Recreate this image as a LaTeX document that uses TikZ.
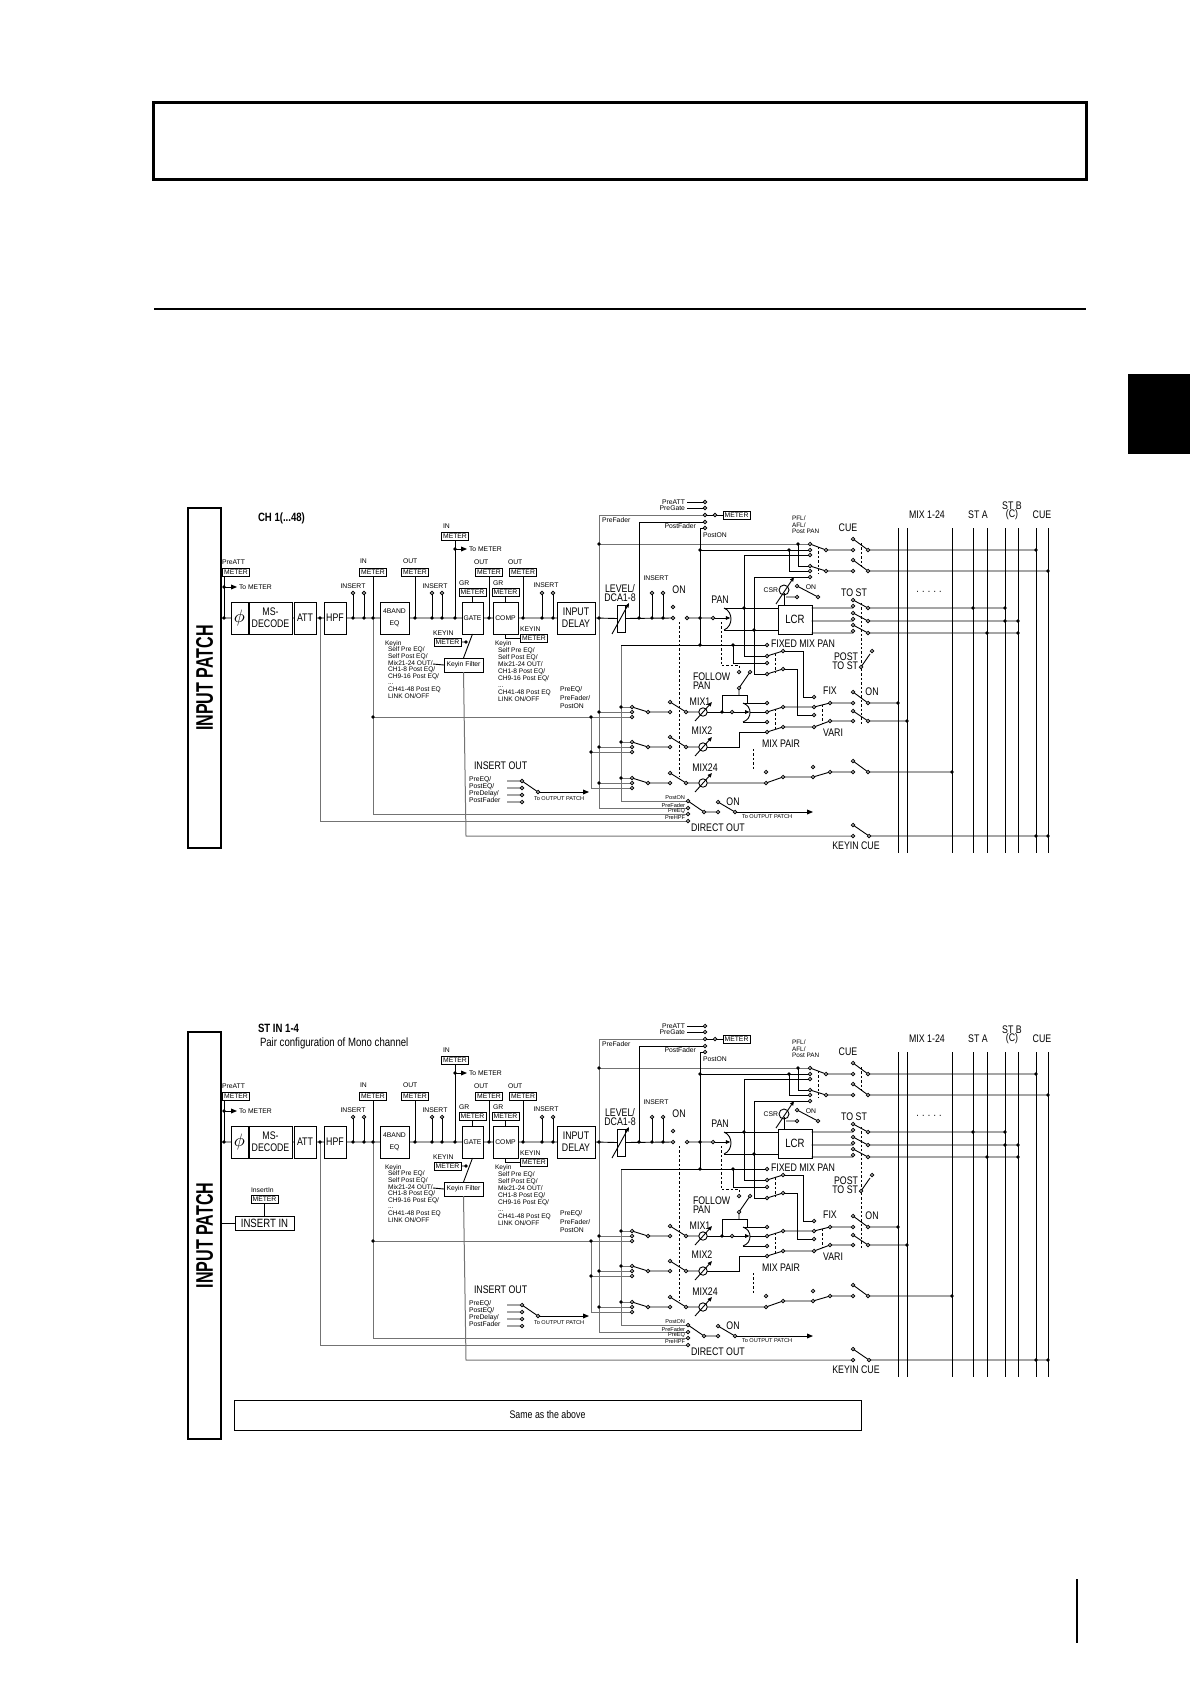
\documentclass[tikz,border=0pt]{standalone}
\usepackage{fontspec}
\setmainfont{Liberation Sans}
\newfontfamily\nfont{Liberation Sans}[FakeStretch=0.8]
\newfontfamily\cfont{Liberation Sans}[FakeStretch=0.67]
\usetikzlibrary{arrows.meta,calc}
\tikzset{
  every node/.style={inner sep=0pt,outer sep=0pt},
  ln/.style={line width=0.45pt},
  gl/.style={line width=0.5pt,draw=black!55},
  dsh/.style={line width=0.45pt,dash pattern=on 1.2pt off 1pt},
  bx/.style={draw,line width=0.5pt,fill=white,align=center},
  big/.style={font=\nfont\fontsize{5.5}{5.6}\selectfont,align=center},
  sml/.style={font=\fontsize{3.4}{3.6}\selectfont},
  tny/.style={font=\fontsize{2.8}{2.9}\selectfont},
  mtr/.style={draw,line width=0.45pt,fill=white,font=\fontsize{3.4}{3.5}\selectfont,minimum width=13.5pt,minimum height=4pt},
  arr/.style={-{Triangle[length=3pt,width=2.4pt]}},
  sarr/.style={-{Triangle[length=2.2pt,width=1.8pt]}},
}
\newcommand\ocs[1]{\foreach \px/\py in {#1}{\draw[line width=0.4pt,fill=white] (\px,\py) circle[radius=0.85pt];}}
\newcommand\dts[1]{\foreach \px/\py in {#1}{\fill (\px,\py) circle[radius=0.95pt];}}
\newcommand\knob[2]{\draw[ln,fill=white] (#1,#2) circle[radius=2.1pt];\draw[ln,sarr] ($(#1,#2)+(-8,9)$) -- ($(#1,#2)+(9,-10)$);}
% pan symbol: left end x, centre y, half height
\newcommand\pansym[3]{\draw[ln] ($(#1,#2)+(0,-#3)$) .. controls ($(#1,#2)+(5,-#3+2)$) and ($(#1,#2)+(7,-4)$) .. ($(#1,#2)+(7,0)$) .. controls ($(#1,#2)+(7,4)$) and ($(#1,#2)+(5,#3-2)$) .. ($(#1,#2)+(0,#3)$);}

\newcommand\chan{%
% ---------- boxes
\node[bx,minimum width=8.5pt,minimum height=16pt] (phi) at (239.5,618) {\fontsize{9}{9}\selectfont$\phi$};
\node[bx,minimum width=21.5pt,minimum height=16pt,font=\nfont\fontsize{5.5}{6}\selectfont] (msd) at (270.5,618) {MS-\\DECODE};
\node[bx,big,minimum width=11pt,minimum height=16pt] (att) at (305,618) {ATT};
\node[bx,big,minimum width=11pt,minimum height=16pt] (hpf) at (335,618) {HPF};
\node[bx,minimum width=14.5pt,minimum height=16pt,font=\fontsize{3.4}{6}\selectfont] (eq) at (394.5,618) {4BAND\\EQ};
\node[bx,sml,minimum width=10.5pt,minimum height=16pt] (gate) at (472.5,618) {GATE};
\node[bx,sml,minimum width=12.5pt,minimum height=16pt] (comp) at (505.5,618) {COMP};
\node[bx,minimum width=19pt,minimum height=16pt,font=\nfont\fontsize{5.5}{6}\selectfont] (idly) at (576,618) {INPUT\\DELAY};
\node[bx,minimum width=4pt,minimum height=13.5pt] (fdr) at (621,618.5) {};
\node[bx,minimum width=17pt,minimum height=14.5pt,font=\nfont\fontsize{6}{6}\selectfont] (lcr) at (795,619.5) {LCR};
\node[bx,sml,minimum width=19.5pt,minimum height=7pt] (kf) at (463.5,665) {Keyin Filter};
\node[mtr] (mpa) at (236,572) {METER};
\node[mtr] (min) at (373,572) {METER};
\node[mtr] (meo) at (415,572) {METER};
\node[mtr] (mgo) at (489,572) {METER};
\node[mtr] (mco) at (523,572) {METER};
\node[mtr] (mgg) at (472.5,592) {METER};
\node[mtr] (mgc) at (505.5,592) {METER};
\node[mtr] (mgi) at (455,536) {METER};
\node[mtr] (mkg) at (447.5,642) {METER};
\node[mtr] (mkc) at (534,638) {METER};
\node[mtr] (msel) at (736.5,515) {METER};
% ---------- gray routing
\draw[gl] (320,618) -- (320,821) -- (688,821);
\draw[gl] (373,618) -- (373,814) -- (688,814);
\draw[gl] (373,717) -- (632,717);
\draw[gl] (591,717) -- (591,788) -- (632,788);
\draw[gl] (591,752) -- (632,752);
\draw[gl] (599,515) -- (599,808) -- (688,808);
\draw[gl] (599,515) -- (705,515);
\draw[gl] (599,544) -- (810,544);
\draw[gl] (599,712) -- (632,712) (599,747) -- (632,747) (599,783) -- (632,783);
\draw[gl] (621,645) -- (621,801) -- (688,801);
\draw[gl] (621,707) -- (632,707) (621,742) -- (632,742) (621,778) -- (632,778);
\draw[gl] (kf.south) -- (466,836) -- (853,836);
% ---------- main line
\draw[ln] (221,618) -- (phi.west) (msd.east) -- (att.west) (att.east) -- (hpf.west) (hpf.east) -- (eq.west) (eq.east) -- (gate.west) (gate.east) -- (comp.west) (comp.east) -- (idly.west) (idly.east) -- (fdr.west) (fdr.east) -- (673,618) (687,618) -- (713,618);
\draw[ln,sarr] (714.7,618) -- (730.3,618);
\pansym{724}{619}{11}
\draw[ln] (724,608) -- (778,608) (724,630) -- (778,630);
\draw[ln,sarr] (612,634) -- (629,603);
% meters and inserts
\draw[ln] (224,576) -- (224,618);
\draw[ln,arr] (224,587) -- (237,587);
\draw[ln] (min.south) -- (373,618) (meo.south) -- (415,618) (mgo.south) -- (489,618) (mco.south) -- (523,618) (mgg.south) -- (gate.north) (mgc.south) -- (comp.north) (mgi.south) -- (455,618);
\draw[ln,arr] (455,549) -- (467,549);
\draw[ln] (353,593) -- (353,618) (364,593) -- (364,618) (432,593) -- (432,618) (442,593) -- (442,618) (542,593) -- (542,618) (553,593) -- (553,618) (652,593) -- (652,618) (663,593) -- (663,618);
\draw[ln] (gate.south) -- (kf.north) (mkg.east) -- (466,642);
\draw[ln] (505,634) -- (505,638) -- (mkc.west);
\draw[ln] (433,664) -- (kf.west);
% meter selector
\draw[ln] (687,502) -- (705,502) (687,508) -- (705,508) (705,515) -- (msel.west);
\draw[ln] (639,618) -- (639,522) -- (705,522);
\draw[ln] (705,528) -- (700,528) -- (700,645);
% cue
\draw[ln] (700,550) -- (810,550) (789,550) -- (789,571) -- (810,571) (798,544) -- (798,566) -- (810,566);
\draw[ln] (744,608) -- (744,555) -- (810,555) (744,608) -- (744,656) -- (767,656);
\draw[ln] (754,630) -- (754,577) -- (810,577) (754,630) -- (754,674) -- (767,674);
\draw[ln] (621,645) -- (767,645) (733,645) -- (733,663) -- (767,663);
\draw[ln] (810,544) -- (826,550) (810,566) -- (826,571) (826,550) -- (853,550) (826,571) -- (853,571);
\draw[ln] (853,539) -- (868,550) (853,560) -- (868,571) (868,550) -- (1036,550) (868,571) -- (1048,571);
\draw[dsh] (818,547) -- (818,574) (861,543) -- (861,567);
% csr
\draw[ln] (784,592.5) -- (784,605);
\draw[ln] (784,590) circle[radius=2.5pt];
\draw[ln,sarr] (776,604) -- (794,577);
\draw[ln] (786,597) -- (797,597) (797,586) -- (818,597);
% to st
\foreach \r/\e in {608/1005,621/1018,633/1018}{\draw[ln] (811.5,\r) -- (853,\r) (853,\r-8) -- (868,\r) (868,\r) -- (\e,\r);}
\draw[dsh] (861,603) -- (861,724);
% fixed mix pan
\draw[ln] (767,656) -- (783,651) (767,674) -- (783,669);
\draw[dsh] (775,654) -- (775,672);
\draw[ln] (783,651) -- (803,651) -- (803,697) -- (814,697) (783,669) -- (797,669) -- (797,715) -- (814,715);
\draw[ln] (861,667) -- (870,654);
% follow pan
\draw[dsh] (721,622) -- (721,665) -- (739,665) -- (739,670);
\draw[ln] (739,688) -- (750,672) (739,688) -- (739,695);
\draw[ln] (722,712) -- (722,695) -- (747,695) -- (747,703);
% mix rows
\foreach \r in {712,747,783}{\draw[ln] (632,\r-5) -- (648,\r) -- (670,\r) (670,\r-10) -- (686,\r) -- (699,\r);}
\knob{703}{712}\knob{703}{747}\knob{703}{783}
\draw[dsh] (679,622) -- (679,777);
\draw[ln] (707,712) -- (732,712);
\draw[ln,sarr] (733.8,712) -- (749.5,712);
\pansym{743}{712.5}{9.5}
\draw[ln] (743,703) -- (767,703) (743,722) -- (767,722) (750,712) -- (767,712);
\draw[ln] (767,712) -- (783,707) (767,732) -- (783,727) (783,707) -- (814,707) (783,727) -- (814,727);
\draw[dsh] (775,709) -- (775,730);
\draw[ln] (814,707) -- (830,703) (814,727) -- (830,721) (830,703) -- (853,703) (830,721) -- (853,721);
\draw[dsh] (822,705) -- (822,724);
\draw[ln] (853,692) -- (868,703) (853,711) -- (868,721) (868,703) -- (898,703) (868,721) -- (907,721);
\draw[ln] (707,747) -- (739,747) -- (739,732) -- (767,732);
\draw[dsh] (753,749) -- (753,771);
\draw[ln] (707,783) -- (766,783) -- (783,777) -- (813,777) -- (830,772) -- (853,772) (853,761) -- (868,772) -- (952,772);
% direct out
\draw[ln] (688,801) -- (704,812) -- (718,812) (718,802) -- (735,812);
\draw[ln,arr] (735,812) -- (813,812);
\draw[ln] (853,825) -- (869,836) -- (1048,836);
% insert out
\draw[ln] (507,781) -- (522,781) (507,788) -- (522,788) (507,795) -- (522,795) (507,802) -- (522,802) (522,781) -- (538,792);
\draw[ln,arr] (538,792) -- (589,792);
% buses
\foreach \x in {898,907,952,973,987,1005,1018,1036,1048}{\draw[ln] (\x,528) -- (\x,853);}
% ---------- circles
\ocs{353/593,364/593,432/593,442/593,542/593,553/593,652/593,663/593,673/607,673/618,687/618,713/618,
705/502,705/508,705/515,705/522,705/528,715/515,
810/544,810/550,810/555,826/550,810/566,810/571,810/577,826/571,
853/539,853/550,868/550,853/560,853/571,868/571,797/586,797/597,818/597,
853/600,853/606,868/608,853/613,853/619,868/621,853/625,853/631,868/633,
767/645,767/656,767/663,767/674,783/651,783/669,872/651,861/667,739/672,750/672,739/688}
\ocs{632/707,632/712,632/717,648/712,670/712,670/702,686/712,732/712,767/703,767/712,767/722,767/732,783/707,783/727,
814/697,814/707,814/715,814/727,830/703,830/721,853/692,853/703,868/703,853/711,853/721,868/721,
632/742,632/747,632/752,648/747,670/747,670/737,686/747,
632/778,632/783,632/788,648/783,670/783,670/773,686/783,766/772,766/783,783/777,813/767,813/777,830/772,853/761,853/772,868/772,
688/801,688/808,688/814,688/821,704/812,718/812,718/802,735/812,853/825,853/836,869/836,
522/781,522/788,522/795,522/802,538/792}
% ---------- dots
\dts{224/618,224/587,320/618,353/618,364/618,373/618,415/618,432/618,442/618,455/618,455/549,489/618,523/618,542/618,553/618,599/618,639/618,652/618,663/618,700/618,
466/642,373/717,591/717,591/752,599/712,599/747,599/783,599/544,621/707,621/742,621/778,
700/550,700/645,733/645,789/550,798/544,744/608,754/630,722/712,
973/608,1005/608,1005/621,1018/621,987/633,1018/633,1036/550,1048/571,898/703,907/721,952/772,1036/836,1048/836}
% ---------- texts
\node[sml,anchor=west] (l1) at (222,562) {PreATT};
\node[sml,anchor=west] (l2) at (239,587) {To METER};
\node[sml,anchor=west] (l3) at (360,561) {IN};
\node[sml,anchor=west] (l4) at (403,561) {OUT};
\node[sml] (l5) at (353,586) {INSERT};
\node[sml] (l6) at (435,586) {INSERT};
\node[sml] (l7) at (546,585) {INSERT};
\node[sml] (l8) at (656,578) {INSERT};
\node[sml,anchor=west] (l9) at (443,526) {IN};
\node[sml,anchor=west] (l10) at (469,549) {To METER};
\node[sml,anchor=west] (l11) at (474,562) {OUT};
\node[sml,anchor=west] (l12) at (508,562) {OUT};
\node[sml,anchor=west] (l13) at (459,583) {GR};
\node[sml,anchor=west] (l14) at (493,583) {GR};
\node[sml,anchor=west] (l15) at (433,633) {KEYIN};
\node[sml,anchor=west] (l16) at (520,629) {KEYIN};
\node[font=\fontsize{3.3}{3.3}\selectfont,align=left,anchor=north west] (kl1) at (385,640.5) {Keyin\\\hspace*{1.5pt}Self Pre EQ/\\\hspace*{1.5pt}Self Post EQ/\\\hspace*{1.5pt}Mix21-24 OUT/\\\hspace*{1.5pt}CH1-8 Post EQ/\\\hspace*{1.5pt}CH9-16 Post EQ/\\\hspace*{1.5pt}...\\\hspace*{1.5pt}CH41-48 Post EQ\\\hspace*{1.5pt}LINK ON/OFF};
\node[font=\fontsize{3.3}{3.5}\selectfont,align=left,anchor=north west] (kl2) at (495,641) {Keyin\\\hspace*{1.5pt}Self Pre EQ/\\\hspace*{1.5pt}Self Post EQ/\\\hspace*{1.5pt}Mix21-24 OUT/\\\hspace*{1.5pt}CH1-8 Post EQ/\\\hspace*{1.5pt}CH9-16 Post EQ/\\\hspace*{1.5pt}...\\\hspace*{1.5pt}CH41-48 Post EQ\\\hspace*{1.5pt}LINK ON/OFF};
\node[font=\fontsize{3.4}{4.2}\selectfont,align=left,anchor=north west] (l17) at (560,687) {PreEQ/\\PreFader/\\PostON};
\node[big,font=\nfont\fontsize{5.5}{4.3}\selectfont] (l18) at (620,593) {LEVEL/\\DCA1-8};
\node[big] (l19) at (679,590) {ON};
\node[big] (l20) at (720,600) {PAN};
\node[sml,anchor=east] (l21) at (778,590) {CSR};
\node[sml] (l22) at (811,587) {ON};
\node[big] (l23) at (854,593) {TO ST};
\node[font=\fontsize{3.2}{3.3}\selectfont,align=left,anchor=north west] (l24) at (792,516) {PFL/\\AFL/\\Post PAN};
\node[big] (l25) at (848,528) {CUE};
\node[big,anchor=west] (l26) at (771,644) {FIXED MIX PAN};
\node[big,anchor=east,align=right,font=\nfont\fontsize{5.5}{4.6}\selectfont] (l27) at (858,661) {POST\\TO ST};
\node[big,anchor=west,align=left,font=\nfont\fontsize{5.5}{4.6}\selectfont] (l28) at (693,681) {FOLLOW\\PAN};
\node[big] (l29) at (700,702) {MIX1};
\node[big] (l30) at (702,731) {MIX2};
\node[big] (l31) at (705,768) {MIX24};
\node[big] (l32) at (830,691) {FIX};
\node[big] (l33) at (872,692) {ON};
\node[big] (l34) at (833,733) {VARI};
\node[big] (l35) at (781,744) {MIX PAIR};
\node[tny,anchor=east] (l36) at (685,798) {PostON};
\node[tny,anchor=east] (l37) at (685,805) {PreFader};
\node[tny,anchor=east] (l38) at (685,811) {PreEQ};
\node[tny,anchor=east] (l39) at (685,818) {PreHPF};
\node[big] (l40) at (733,802) {ON};
\node[tny,anchor=west] (l41) at (742,817) {To OUTPUT PATCH};
\node[big,anchor=west] (l42) at (691,828) {DIRECT OUT};
\node[big] (l43) at (856,846) {KEYIN CUE};
\node[big,anchor=west] (l44) at (474,766) {INSERT OUT};
\node[font=\fontsize{3.4}{3.5}\selectfont,align=left,anchor=north west] (l45) at (469,777) {PreEQ/\\PostEQ/\\PreDelay/\\PostFader};
\node[tny,anchor=west] (l46) at (534,799) {To OUTPUT PATCH};
\node[big] (l47) at (927,515) {MIX 1-24};
\node[big] (l48) at (978,515) {ST A};
\node[big,font=\nfont\fontsize{5.5}{4.2}\selectfont] (l49) at (1012,511) {ST B\\(C)};
\node[big] (l50) at (1042,515) {CUE};
\node[big] (l51) at (929,592) {. . . . .};
\node[sml,anchor=east] (l52) at (685,502) {PreATT};
\node[sml,anchor=east] (l53) at (685,508) {PreGate};
\node[sml,anchor=west] (l54) at (602,520) {PreFader};
\node[sml,anchor=east] (l55) at (696,526) {PostFader};
\node[sml,anchor=west] (l56) at (703,535) {PostON};
}

\begin{document}
\begin{tikzpicture}[x=0.5pt,y=-0.5pt]
\useasboundingbox (0,0) rectangle (1190,1684);
% page furniture
\draw[line width=1.5pt] (153.5,102.5) rectangle (1086,180);
\draw[line width=1.2pt] (154,309) -- (1086,309);
\fill (1128,374) rectangle (1190,454);
\draw[line width=0.9pt] (1077,1579) -- (1077,1643);
% diagram 1
\node[draw,line width=0.6pt,minimum width=16.5pt,minimum height=170pt] (ip1) at (204.5,678) {};
\node[rotate=90,font=\cfont\bfseries\fontsize{12}{12}\selectfont] (ip1t) at (ip1) {INPUT PATCH};
\node[anchor=west,font=\nfont\bfseries\fontsize{6}{6}\selectfont] (t1) at (258,518) {CH 1(...48)};
\begin{scope}[name prefix=a-]
\chan
\end{scope}
% diagram 2
\node[draw,line width=0.6pt,minimum width=16.5pt,minimum height=203.5pt] (ip2) at (204.5,1235.5) {};
\node[rotate=90,font=\cfont\bfseries\fontsize{12}{12}\selectfont] (ip2t) at (ip2) {INPUT PATCH};
\begin{scope}[yshift=-262pt,name prefix=b-]
\chan
\node[anchor=west,font=\nfont\bfseries\fontsize{6}{6}\selectfont] (st) at (258,504) {ST IN 1-4};
\node[anchor=west,font=\nfont\fontsize{6}{6}\selectfont] (pc) at (260,519) {Pair configuration of Mono channel};
\node[mtr] (mii) at (264.5,675) {METER};
\node[sml,anchor=west] (iil) at (251,666) {InsertIn};
\node[bx,font=\nfont\fontsize{6}{6}\selectfont,minimum width=29.5pt,minimum height=7pt] (ii) at (264.5,699) {INSERT IN};
\draw[ln] (mii.south) -- (ii.north);
\draw[ln] (221,699) -- (ii.west);
\end{scope}
\node[draw,line width=0.5pt,minimum width=313.5pt,minimum height=15pt,font=\nfont\fontsize{5.5}{5.6}\selectfont] (same) at (547.5,1415) {Same as the above};
\end{tikzpicture}
\end{document}
